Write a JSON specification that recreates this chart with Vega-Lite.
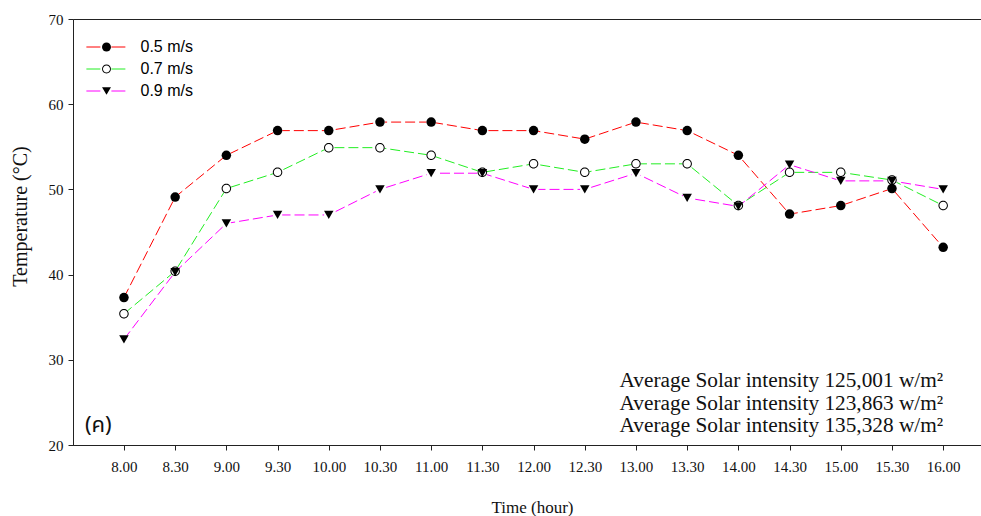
{
  "$schema": "https://vega.github.io/schema/vega-lite/v6.json",
  "width": 908,
  "height": 426,
  "autosize": {"type": "none"},
  "padding": {"left": 73, "top": 19, "right": 0, "bottom": 71},
  "background": "white",
  "config": {
    "view": {"stroke": "#222", "strokeWidth": 1},
    "font": "Liberation Serif",
    "axis": {"grid": false, "domainColor": "#222", "tickColor": "#222", "tickSize": 5, "labelColor": "#111", "titleColor": "#111", "labelFont": "Liberation Serif", "titleFont": "Liberation Serif", "titleFontWeight": "normal"}
  },
  "datasets": {
    "temps": [
      {"time": "8.00", "speed": "0.5 m/s", "temp": 37.3},
      {"time": "8.30", "speed": "0.5 m/s", "temp": 49.1},
      {"time": "9.00", "speed": "0.5 m/s", "temp": 54.0},
      {"time": "9.30", "speed": "0.5 m/s", "temp": 56.9},
      {"time": "10.00", "speed": "0.5 m/s", "temp": 56.9},
      {"time": "10.30", "speed": "0.5 m/s", "temp": 57.9},
      {"time": "11.00", "speed": "0.5 m/s", "temp": 57.9},
      {"time": "11.30", "speed": "0.5 m/s", "temp": 56.9},
      {"time": "12.00", "speed": "0.5 m/s", "temp": 56.9},
      {"time": "12.30", "speed": "0.5 m/s", "temp": 55.9},
      {"time": "13.00", "speed": "0.5 m/s", "temp": 57.9},
      {"time": "13.30", "speed": "0.5 m/s", "temp": 56.9},
      {"time": "14.00", "speed": "0.5 m/s", "temp": 54.0},
      {"time": "14.30", "speed": "0.5 m/s", "temp": 47.1},
      {"time": "15.00", "speed": "0.5 m/s", "temp": 48.1},
      {"time": "15.30", "speed": "0.5 m/s", "temp": 50.1},
      {"time": "16.00", "speed": "0.5 m/s", "temp": 43.2},
      {"time": "8.00", "speed": "0.7 m/s", "temp": 35.4},
      {"time": "8.30", "speed": "0.7 m/s", "temp": 40.4},
      {"time": "9.00", "speed": "0.7 m/s", "temp": 50.1},
      {"time": "9.30", "speed": "0.7 m/s", "temp": 52.0},
      {"time": "10.00", "speed": "0.7 m/s", "temp": 54.9},
      {"time": "10.30", "speed": "0.7 m/s", "temp": 54.9},
      {"time": "11.00", "speed": "0.7 m/s", "temp": 54.0},
      {"time": "11.30", "speed": "0.7 m/s", "temp": 52.0},
      {"time": "12.00", "speed": "0.7 m/s", "temp": 53.0},
      {"time": "12.30", "speed": "0.7 m/s", "temp": 52.0},
      {"time": "13.00", "speed": "0.7 m/s", "temp": 53.0},
      {"time": "13.30", "speed": "0.7 m/s", "temp": 53.0},
      {"time": "14.00", "speed": "0.7 m/s", "temp": 48.1},
      {"time": "14.30", "speed": "0.7 m/s", "temp": 52.0},
      {"time": "15.00", "speed": "0.7 m/s", "temp": 52.0},
      {"time": "15.30", "speed": "0.7 m/s", "temp": 51.1},
      {"time": "16.00", "speed": "0.7 m/s", "temp": 48.1},
      {"time": "8.00", "speed": "0.9 m/s", "temp": 32.4},
      {"time": "8.30", "speed": "0.9 m/s", "temp": 40.3},
      {"time": "9.00", "speed": "0.9 m/s", "temp": 46.0},
      {"time": "9.30", "speed": "0.9 m/s", "temp": 47.0},
      {"time": "10.00", "speed": "0.9 m/s", "temp": 47.0},
      {"time": "10.30", "speed": "0.9 m/s", "temp": 50.0},
      {"time": "11.00", "speed": "0.9 m/s", "temp": 51.9},
      {"time": "11.30", "speed": "0.9 m/s", "temp": 51.9},
      {"time": "12.00", "speed": "0.9 m/s", "temp": 50.0},
      {"time": "12.30", "speed": "0.9 m/s", "temp": 50.0},
      {"time": "13.00", "speed": "0.9 m/s", "temp": 51.9},
      {"time": "13.30", "speed": "0.9 m/s", "temp": 49.0},
      {"time": "14.00", "speed": "0.9 m/s", "temp": 48.0},
      {"time": "14.30", "speed": "0.9 m/s", "temp": 52.9},
      {"time": "15.00", "speed": "0.9 m/s", "temp": 51.0},
      {"time": "15.30", "speed": "0.9 m/s", "temp": 51.0},
      {"time": "16.00", "speed": "0.9 m/s", "temp": 50.0}
    ],
    "notes": [
      {"time": "16.00", "temp": 26.8, "label": "Average Solar intensity 125,001 w/m²"},
      {"time": "16.00", "temp": 24.1, "label": "Average Solar intensity 123,863 w/m²"},
      {"time": "16.00", "temp": 21.5, "label": "Average Solar intensity 135,328 w/m²"}
    ],
    "tag": [
      {"time": "8.00", "temp": 22.4, "label": "(ค)"}
    ]
  },
  "layer": [
    {
      "data": {"name": "temps"},
      "mark": {"type": "line", "strokeWidth": 1, "strokeDash": [10, 4]},
      "encoding": {
        "x": {
          "field": "time", "type": "ordinal",
          "scale": {"type": "point", "domain": ["8.00","8.30","9.00","9.30","10.00","10.30","11.00","11.30","12.00","12.30","13.00","13.30","14.00","14.30","15.00","15.30","16.00"], "padding": 0.867, "align": 0.574},
          "axis": {"title": "Time (hour)", "labelAngle": 0, "labelFontSize": 15, "labelPadding": 9, "titleFontSize": 17, "titleBaseline": "alphabetic", "titleY": 67, "titleX": 459}
        },
        "y": {
          "field": "temp", "type": "quantitative",
          "scale": {"domain": [20, 70], "nice": false, "zero": false},
          "axis": {"title": "Temperature (°C)", "values": [20, 30, 40, 50, 60, 70], "labelFontSize": 15, "labelPadding": 5, "titleFontSize": 20, "titleBaseline": "middle", "titleX": -53, "titleY": 197}
        },
        "color": {
          "field": "speed", "type": "nominal",
          "scale": {"domain": ["0.5 m/s", "0.7 m/s", "0.9 m/s"], "range": ["#ff0000", "#22ee22", "#ff00ff"]},
          "legend": {"orient": "none", "legendX": 25.5, "legendY": 20, "title": null, "symbolType": "M-4.5,0H4.4", "symbolSize": 80, "symbolStrokeWidth": 1, "symbolDash": [14, 11], "labelOpacity": 0, "labelFont": "Liberation Sans", "labelFontSize": 16, "labelOffset": 26, "rowPadding": 6}
        }
      }
    },
    {
      "data": {"name": "temps"},
      "mark": {"type": "point", "filled": true, "color": "white", "shape": "circle", "size": 90, "opacity": 1},
      "encoding": {
        "x": {"field": "time", "type": "ordinal"},
        "y": {"field": "temp", "type": "quantitative"}
      }
    },
    {
      "data": {"name": "temps"},
      "mark": {"type": "point", "filled": true, "color": "black", "size": 90, "opacity": 1},
      "encoding": {
        "x": {"field": "time", "type": "ordinal"},
        "y": {"field": "temp", "type": "quantitative"},
        "shape": {
          "field": "speed", "type": "nominal",
          "scale": {"range": ["circle", "M1,0A1,1,0,1,1,-1,0A1,1,0,1,1,1,0Z M0.79,0A0.79,0.79,0,1,0,-0.79,0A0.79,0.79,0,1,0,0.79,0Z", "triangle-down"]},
          "legend": {"orient": "none", "legendX": 25.5, "legendY": 20, "title": null, "symbolSize": 80, "symbolFillColor": "black", "symbolStrokeWidth": 0, "labelFont": "Liberation Sans", "labelFontSize": 16, "labelColor": "black", "labelOffset": 26, "rowPadding": 6}
        }
      }
    },
    {
      "data": {"name": "notes"},
      "mark": {"type": "text", "align": "right", "baseline": "alphabetic", "font": "Liberation Serif", "fontSize": 21.3, "color": "#111"},
      "encoding": {
        "x": {"field": "time", "type": "ordinal"},
        "y": {"field": "temp", "type": "quantitative"},
        "text": {"field": "label"}
      }
    },
    {
      "data": {"name": "tag"},
      "mark": {"type": "text", "align": "left", "baseline": "middle", "dx": -39, "font": "Noto Sans Thai, Noto Sans, DejaVu Sans, sans-serif", "fontSize": 22, "color": "#111"},
      "encoding": {
        "x": {"field": "time", "type": "ordinal"},
        "y": {"field": "temp", "type": "quantitative"},
        "text": {"field": "label"}
      }
    }
  ]
}
